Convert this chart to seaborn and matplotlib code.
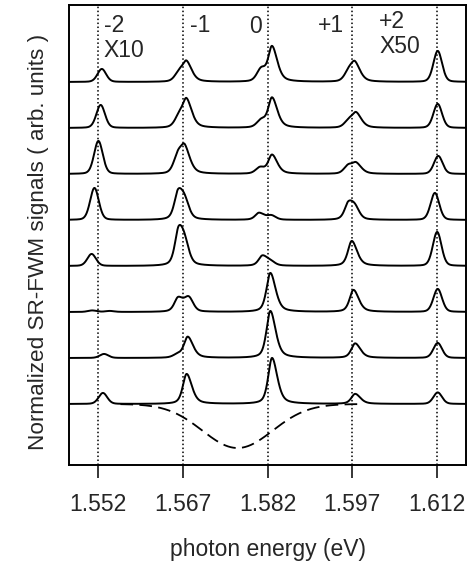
import numpy as np
import pandas as pd
import matplotlib
matplotlib.use("Agg")
import matplotlib.pyplot as plt
import seaborn as sns

# ---------------- data ----------------
tick_energies = [1.552, 1.567, 1.582, 1.597, 1.612]
tick_labels = ["1.552", "1.567", "1.582", "1.597", "1.612"]

# vertical offsets of the 8 traces (top -> bottom), in plot units
trace_offsets = [383, 337, 291, 245, 199, 153, 107, 61]

# main peak energy / height for each trace (columns: -2, -1, 0, +1, +2)
main_E = [
    [1.5527, 1.5677, 1.5828, 1.5975, 1.6121],
    [1.5525, 1.5677, 1.5828, 1.5977, 1.6121],
    [1.5521, 1.5674, 1.5828, 1.5977, 1.6122],
    [1.5514, 1.5662, 1.5805, 1.5963, 1.6116],
    [1.5509, 1.5663, 1.5811, 1.5969, 1.6120],
    [1.5510, 1.5662, 1.5825, 1.5972, 1.6121],
    [1.5531, 1.5679, 1.5825, 1.5975, 1.6121],
    [1.5529, 1.5677, 1.5828, 1.5975, 1.6121],
]
main_A = [
    [13, 19, 35, 17, 31],
    [23, 27, 30, 14, 24],
    [33, 24, 19, 10, 18],
    [32, 27, 7, 16, 27],
    [12, 35, 10, 25, 34],
    [1.5, 14, 39, 22, 23],
    [4, 21, 47, 14.5, 15],
    [11, 30, 46, 10, 11.5],
]
# side (shoulder) peak energy / height
side_E = [
    [1.5527, 1.5664, 1.5809, 1.5964, 1.6121],
    [1.5525, 1.5664, 1.5809, 1.5964, 1.6121],
    [1.5521, 1.5662, 1.5807, 1.5963, 1.6122],
    [1.5514, 1.5674, 1.5827, 1.5975, 1.6116],
    [1.5509, 1.5674, 1.5826, 1.5969, 1.6120],
    [1.5541, 1.5681, 1.5825, 1.5972, 1.6121],
    [1.5531, 1.5661, 1.5825, 1.5975, 1.6121],
    [1.5529, 1.5677, 1.5828, 1.5975, 1.6121],
]
side_A = [
    [0, 9, 12, 10, 0],
    [0, 11, 7, 7, 0],
    [0, 18, 6, 8, 0],
    [0, 13, 4, 9, 0],
    [0, 14, 3, 0, 0],
    [1, 13, 0, 0, 0],
    [0, 3, 0, 0, 0],
    [0, 0, 0, 0, 0],
]
# excitation spectrum (dashed) under the last trace
pulse_center = 1.5767
pulse_depth = 44
pulse_sigma = 0.0062

# ---------------- build curves ----------------
E = np.linspace(1.5469, 1.6171, 2500)


def peak(x, c, a, wl, wr, eta):
    w = np.where(x < c, wl, wr)
    u = (x - c) / w
    return a * (eta / (1 + u ** 2) + (1 - eta) * np.exp(-np.log(2) * u ** 2))


rows = []
for t in range(8):
    y = np.zeros_like(E)
    for k in range(5):
        if k in (0, 4):
            wl, wr, eta = 0.0009, 0.0009, 0.2
        else:
            wl, wr, eta = 0.0008, 0.0011, 0.5
        y += peak(E, main_E[t][k], main_A[t][k], wl, wr, eta)
        if side_A[t][k]:
            y += peak(E, side_E[t][k], side_A[t][k], 0.0009, 0.0009, 0.3)
    y += trace_offsets[t]
    rows.append(pd.DataFrame({"E": E, "S": y, "trace": t}))
df = pd.concat(rows, ignore_index=True)

Ed = np.linspace(1.5560, 1.5985, 600)
dash = trace_offsets[-1] - pulse_depth * np.exp(-(Ed - pulse_center) ** 2 / (2 * pulse_sigma ** 2))
df_dash = pd.DataFrame({"E": Ed, "S": dash})

# ---------------- plot ----------------
sns.set_style("ticks")
plt.rcParams["font.family"] = ["Liberation Sans", "DejaVu Sans"]

fig = plt.figure(figsize=(4.72, 5.61), dpi=100)
ax = fig.add_axes([69 / 472, 1 - 465 / 561, 397 / 472, 460 / 561])

for xv in tick_energies:
    ax.axvline(xv, color="black", lw=1.1, ls=(0, (1, 1.6)), zorder=1)

sns.lineplot(data=df, x="E", y="S", units="trace", estimator=None,
             color="black", lw=1.4, ax=ax, sort=False, zorder=3)
sns.lineplot(data=df_dash, x="E", y="S", color="black", lw=1.3,
             ax=ax, sort=False, dashes=False, zorder=3)
ax.lines[-1].set_linestyle((0, (7, 3.5)))

ax.set_xlim(1.5469, 1.6171)
ax.set_ylim(0, 460)
ax.set_xticks(tick_energies)
ax.set_xticklabels(tick_labels, fontsize=16.5)
ax.set_yticks([])
ax.tick_params(axis="x", direction="out", length=9.5, width=1.3, pad=10.5,
               top=False)
for s in ax.spines.values():
    s.set_linewidth(1.4)
    s.set_color("black")

ax.set_xlabel("photon energy (eV)", fontsize=16.5, labelpad=16)
ax.set_ylabel("Normalized SR-FWM signals ( arb. units )", fontsize=16.2)
ax.yaxis.set_label_coords(-0.05, 0.485)

txt = dict(fontsize=16.5, ha="left", va="baseline")
ax.text(1.55306, 433, "-2", **txt)
ax.text(1.55306, 408, "X10", **txt)
ax.text(1.56824, 433, "-1", **txt)
ax.text(1.57883, 432, "0", **txt)
ax.text(1.59083, 433, "+1", **txt)
ax.text(1.60178, 437, "+2", **txt)
ax.text(1.60178, 412, "X50", **txt)

fig.savefig("out.png", dpi=100)
